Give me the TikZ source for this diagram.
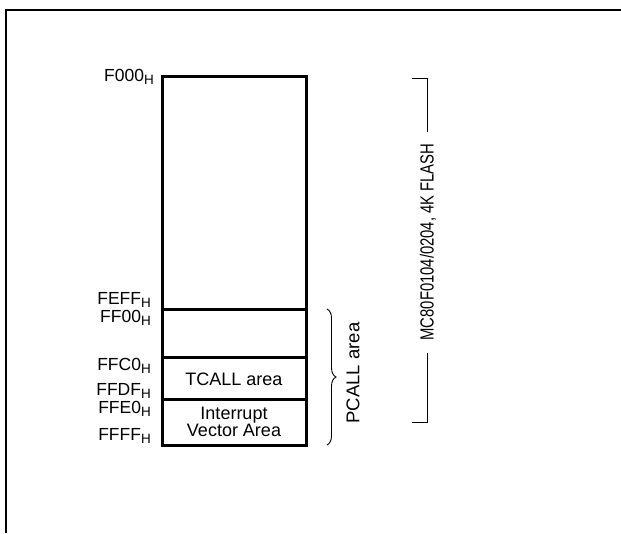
\documentclass[tikz,border=0pt]{standalone}
\usepackage{fontspec}
\setmainfont{Liberation Sans}
\usetikzlibrary{decorations.pathreplacing}
\newcommand{\addrlab}[1]{{\fontsize{17.5}{17.5}\selectfont #1\raisebox{-3.5pt}{\fontsize{13.5}{13.5}\selectfont H}}}
\begin{document}
\begin{tikzpicture}[x=1pt,y=-1pt,
  frameline/.style={line width=2pt},
  memline/.style={line width=3pt},
  thinline/.style={line width=0.9pt},
  addr/.style={anchor=base east, inner sep=0pt},
  boxtext/.style={font=\fontsize{18}{21}\selectfont, align=center, inner sep=0pt}]
\useasboundingbox (0,0) rectangle (621,533);
% outer frame (partially visible)
\draw[frameline] (6,533) -- (6,10) -- (621,10);
% memory map
\coordinate (tl) at (162,76);
\coordinate (br) at (306,445);
\draw[memline] (tl) rectangle (br);
\coordinate (d1l) at (162,309); \coordinate (d1r) at (306,309);
\coordinate (d2l) at (162,357); \coordinate (d2r) at (306,357);
\coordinate (d3l) at (162,399); \coordinate (d3r) at (306,399);
\draw[memline] (d1l) -- (d1r);
\draw[memline] (d2l) -- (d2r);
\draw[memline] (d3l) -- (d3r);
% address labels
\node[addr] (a1) at (154,81) {\addrlab{F000}};
\node[addr] (a2) at (151,304) {\addrlab{FEFF}};
\node[addr] (a3) at (151,322) {\addrlab{FF00}};
\node[addr] (a4) at (151,370) {\addrlab{FFC0}};
\node[addr] (a5) at (151,395) {\addrlab{FFDF}};
\node[addr] (a6) at (151,413) {\addrlab{FFE0}};
\node[addr] (a7) at (151,440) {\addrlab{FFFF}};
% box texts
\node[boxtext, anchor=base] (tcall) at (234,385) {TCALL area};
\node[boxtext, anchor=center] (ivec) at (234,422) {Interrupt\\[-4pt]Vector Area};
% PCALL brace
\coordinate (bt) at (327,309);
\coordinate (bb) at (327,445);
\draw[thinline, decorate, decoration={brace, amplitude=9pt}] (bt) -- (bb);
\node[rotate=90, font=\fontsize{18.5}{18.5}\selectfont, inner sep=0pt] (pcall) at (353,373) {PCALL area};
% flash bracket
\coordinate (f1) at (412,78);
\coordinate (f2) at (427,78);
\coordinate (f3) at (427,132);
\coordinate (f4) at (427,353);
\coordinate (f5) at (427,422);
\coordinate (f6) at (412,422);
\draw[thinline] (f1) -- (f2) -- (f3);
\draw[thinline] (f4) -- (f5) -- (f6);
\node[rotate=90, inner sep=0pt] (flash) at (428,242) {\scalebox{0.78}[1]{\fontsize{19}{19}\selectfont MC80F0104/0204, 4K FLASH}};
\end{tikzpicture}
\end{document}
